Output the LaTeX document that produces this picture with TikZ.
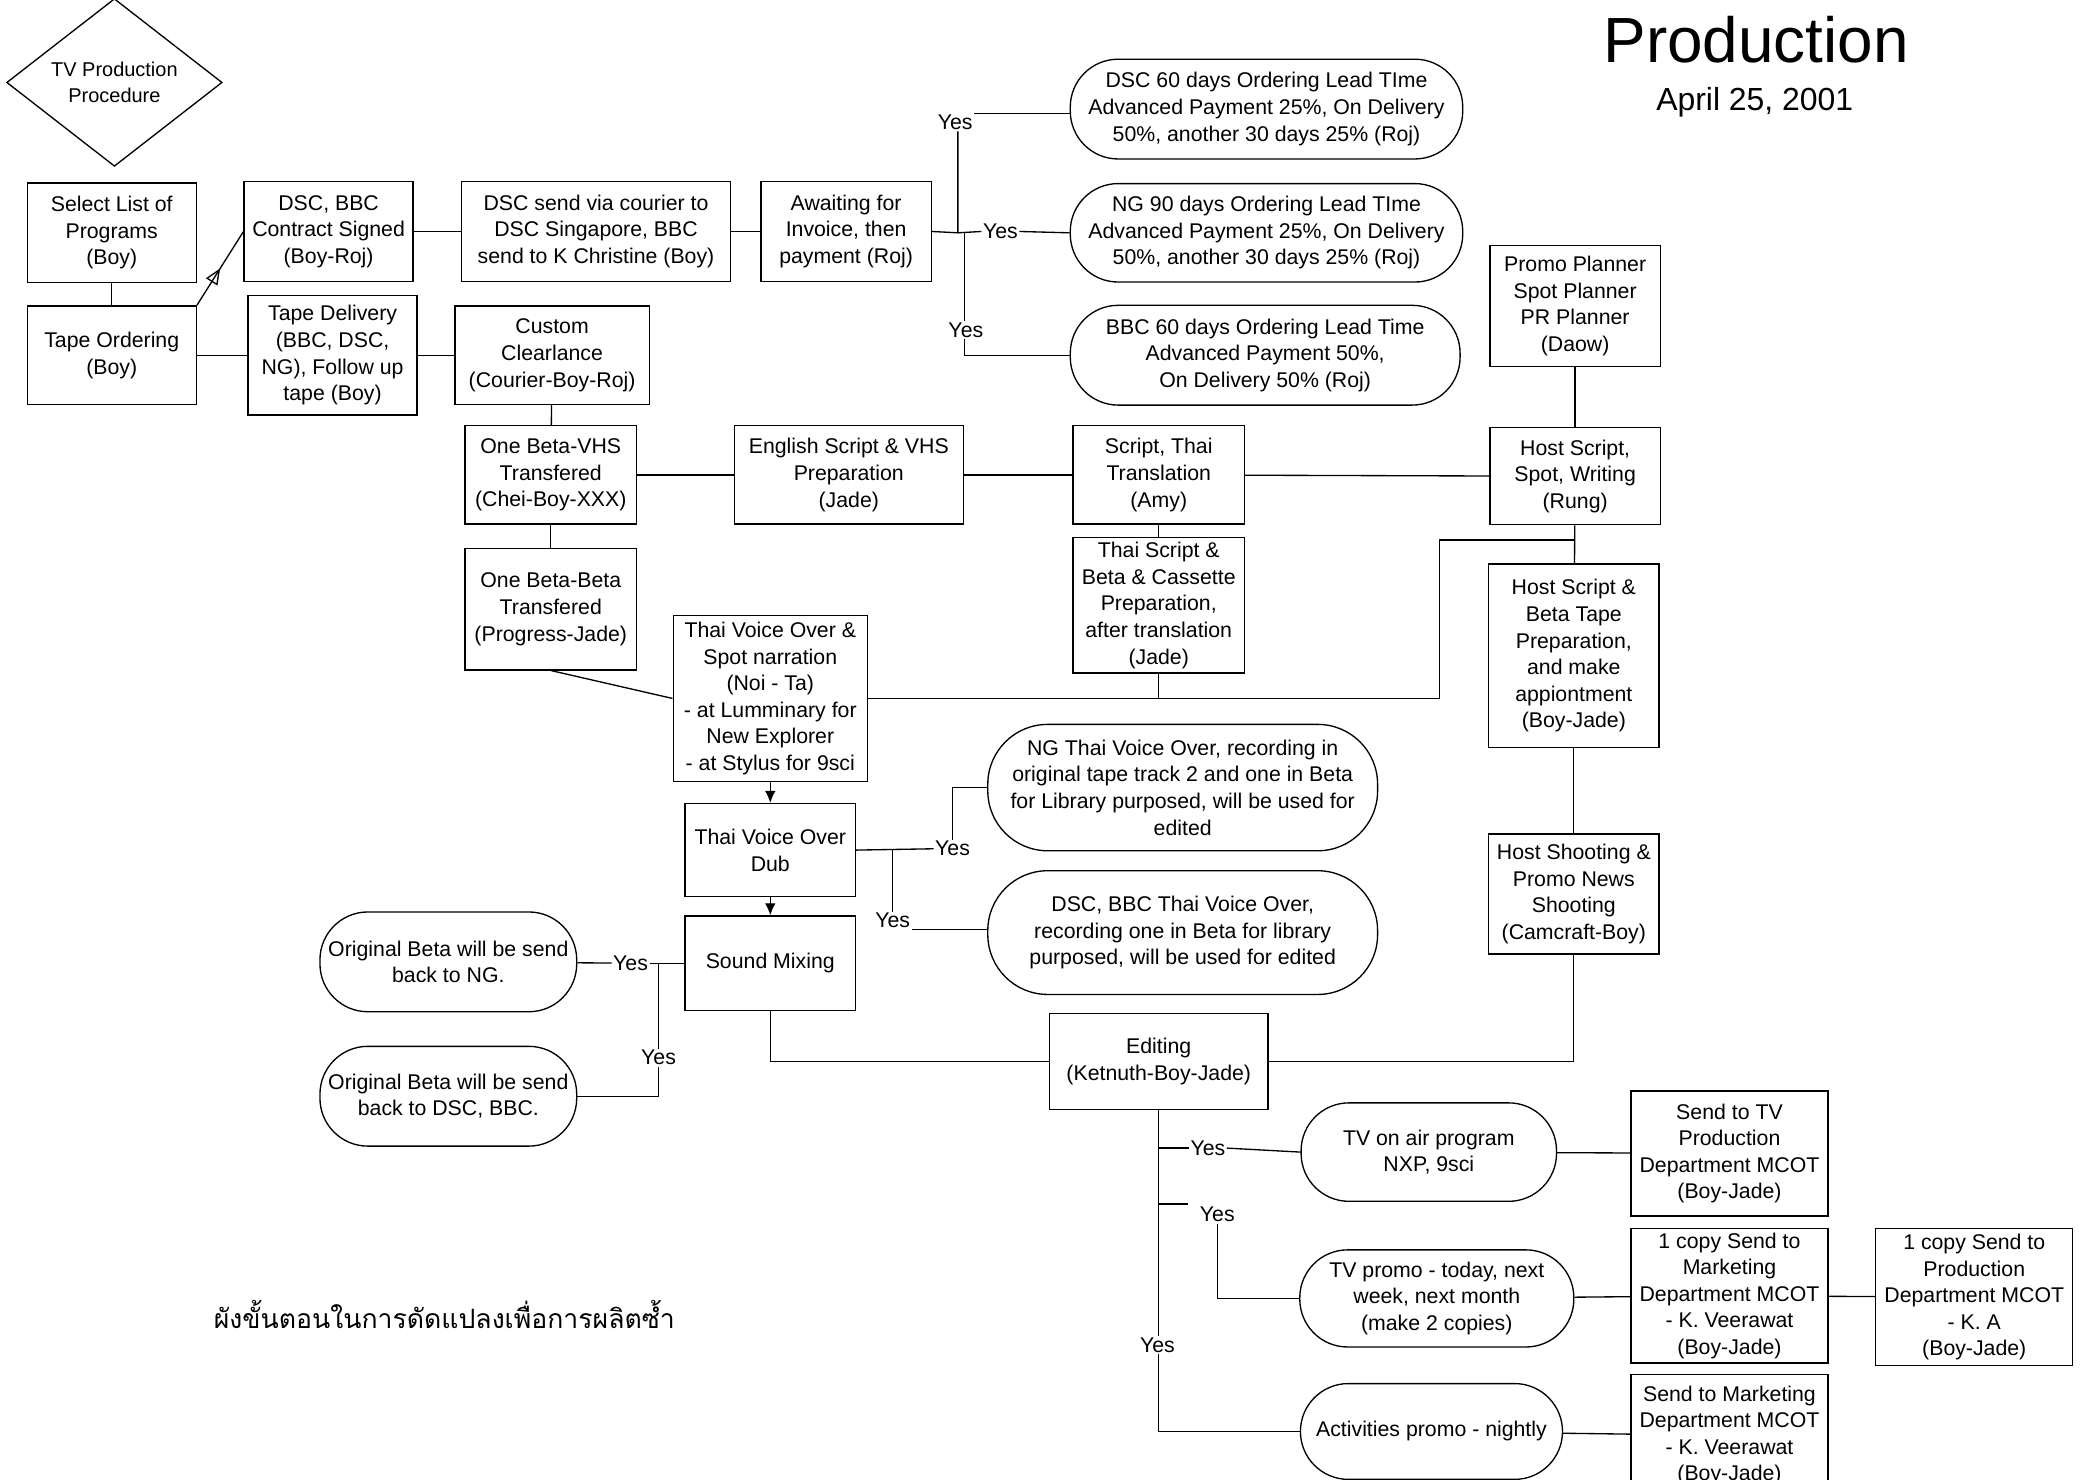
\documentclass[tikz,border=0pt]{standalone}
\usepackage{fontspec}
\setmainfont{Liberation Sans}
\newfontfamily\thaifont[Script=Thai]{Loma}
\usetikzlibrary{arrows.meta,shapes.geometric,decorations.markings}

\tikzset{
  txt/.style={font=\fontsize{16}{20}\selectfont},
  proc/.style={txt, draw, line width=1pt, align=center, inner sep=2pt},
  term/.style={proc, rounded corners=36pt},
  yes/.style={txt, inner sep=1pt},
  link/.style={line width=1pt},
  flow/.style={link, -{Latex[length=9pt,width=8pt]}},
  midtri/.style={postaction={decorate}, decoration={markings,
    mark=at position 0.5 with {\arrow{Triangle[open,length=12pt,width=10pt]}}}},
}

\begin{document}
\begin{tikzpicture}[x=1pt,y=-1pt]
    \useasboundingbox (0,0) rectangle (1568,1115);
    \clip (0,0) rectangle (1568,1112);
    \node[txt, diamond, draw, line width=1pt, align=center, inner sep=0pt, minimum width=162pt, minimum height=113pt,
      font=\fontsize{15}{20}\selectfont] (start) at (86,62) {TV Production\\Procedure};
    \node (title) at (1320,30) {\fontsize{48}{48}\selectfont Production};
    \node (date) at (1319,77) {\fontsize{24}{24}\selectfont April 25, 2001};
    \node (caption) at (334,988) {\thaifont\fontsize{20}{24}\selectfont ผังขั้นตอนในการดัดแปลงเพื่อการผลิตซ้ำ};

    \node[proc, minimum width=127pt, minimum height=75pt] (select) at (84,175) {Select List of\\Programs\\(Boy)};
    \node[proc, minimum width=127pt, minimum height=74pt] (order) at (84,267) {Tape Ordering\\(Boy)};
    \node[proc, minimum width=127pt, minimum height=75pt] (contract) at (247,174) {DSC, BBC\\Contract Signed\\(Boy-Roj)};
    \node[proc, minimum width=202pt, minimum height=75pt] (courier) at (448,174) {DSC send via courier to\\DSC Singapore, BBC\\send to K Christine (Boy)};
    \node[proc, minimum width=128pt, minimum height=75pt] (await) at (636,174) {Awaiting for\\Invoice, then\\payment (Roj)};
    \node[term, minimum width=295pt, minimum height=75pt] (dsclead) at (952,82) {DSC 60 days Ordering Lead TIme\\Advanced Payment 25\%, On Delivery\\50\%, another 30 days 25\% (Roj)};
    \node[term, minimum width=295pt, minimum height=74pt] (nglead) at (952,175) {NG 90 days Ordering Lead TIme\\Advanced Payment 25\%, On Delivery\\50\%, another 30 days 25\% (Roj)};
    \node[term, minimum width=293pt, minimum height=75pt] (bbclead) at (951,267) {BBC 60 days Ordering Lead Time\\Advanced Payment 50\%,\\On Delivery 50\% (Roj)};
    \node[proc, minimum width=128pt, minimum height=91pt] (planner) at (1184,230) {Promo Planner\\Spot Planner\\PR Planner\\(Daow)};
    \node[proc, minimum width=128pt, minimum height=73pt] (hostscript) at (1184,358) {Host Script,\\Spot, Writing\\(Rung)};
    \node[proc, minimum width=127pt, minimum height=90pt] (delivery) at (250,267) {Tape Delivery\\(BBC, DSC,\\NG), Follow up\\tape (Boy)};
    \node[proc, minimum width=146pt, minimum height=74pt] (custom) at (415,267) {Custom\\Clearlance\\(Courier-Boy-Roj)};
    \node[proc, minimum width=129pt, minimum height=74pt] (betavhs) at (414,357) {One Beta-VHS\\Transfered\\(Chei-Boy-XXX)};
    \node[proc, minimum width=172pt, minimum height=74pt] (english) at (638,357) {English Script \& VHS\\Preparation\\(Jade)};
    \node[proc, minimum width=129pt, minimum height=74pt] (thaitrans) at (871,357) {Script, Thai\\Translation\\(Amy)};
    \node[proc, minimum width=129pt, minimum height=102pt] (thaiscript) at (871,455) {Thai Script \&\\Beta \& Cassette\\Preparation,\\after translation\\(Jade)};
    \node[proc, minimum width=129pt, minimum height=91pt] (betabeta) at (414,458) {One Beta-Beta\\Transfered\\(Progress-Jade)};
    \node[proc, minimum width=146pt, minimum height=125pt] (voice) at (579,525) {Thai Voice Over \&\\Spot narration\\(Noi - Ta)\\- at Lumminary for\\New Explorer\\- at Stylus for 9sci};
    \node[proc, minimum width=128pt, minimum height=138pt] (hostprep) at (1183,493) {Host Script \&\\Beta Tape\\Preparation,\\and make\\appiontment\\(Boy-Jade)};
    \node[proc, minimum width=128pt, minimum height=90pt] (hostshoot) at (1183,672) {Host Shooting \&\\Promo News\\Shooting\\(Camcraft-Boy)};
    \node[proc, minimum width=128pt, minimum height=70pt] (dub) at (579,639) {Thai Voice Over\\Dub};
    \node[proc, minimum width=128pt, minimum height=71pt] (mixing) at (579,724) {Sound Mixing};
    \node[proc, minimum width=164pt, minimum height=72pt] (editing) at (871,798) {Editing\\(Ketnuth-Boy-Jade)};
    \node[term, rounded corners=45pt, minimum width=293pt, minimum height=95pt] (ngvoice) at (889,592) {NG Thai Voice Over, recording in\\original tape track 2 and one in Beta\\for Library purposed, will be used for\\edited};
    \node[term, rounded corners=45pt, minimum width=293pt, minimum height=93pt] (dscvoice) at (889,701) {DSC, BBC Thai Voice Over,\\recording one in Beta for library\\purposed, will be used for edited};
    \node[term, minimum width=193pt, minimum height=75pt] (backng) at (337,723) {Original Beta will be send\\back to NG.};
    \node[term, minimum width=193pt, minimum height=75pt] (backdsc) at (337,824) {Original Beta will be send\\back to DSC, BBC.};
    \node[term, minimum width=192pt, minimum height=74pt] (onair) at (1074,866) {TV on air program\\NXP, 9sci};
    \node[term, minimum width=206pt, minimum height=73pt] (promo) at (1080,976) {TV promo - today, next\\week, next month\\(make 2 copies)};
    \node[term, minimum width=197pt, minimum height=72pt] (activity) at (1076,1076) {Activities promo - nightly};
    \node[proc, minimum width=148pt, minimum height=94pt] (sendtv) at (1300,867) {Send to TV\\Production\\Department MCOT\\(Boy-Jade)};
    \node[proc, minimum width=148pt, minimum height=101pt] (copymkt) at (1300,974) {1 copy Send to\\Marketing\\Department MCOT\\- K. Veerawat\\(Boy-Jade)};
    \node[proc, minimum width=148pt, minimum height=103pt] (copyprod) at (1484,975) {1 copy Send to\\Production\\Department MCOT\\- K. A\\(Boy-Jade)};
    \node[proc, minimum width=148pt, minimum height=92pt] (sendmkt) at (1300,1079) {Send to Marketing\\Department MCOT\\- K. Veerawat\\(Boy-Jade)};

    \node[yes] (yesdsc) at (718,92) {Yes};
    \node[yes] (yesng) at (752,174) {Yes};
    \node[yes] (yesbbc) at (726,248) {Yes};
    \node[yes] (yesngvo) at (716,638) {Yes};
    \node[yes] (yesdscvo) at (671,692) {Yes};
    \node[yes] (yesbackng) at (474,724) {Yes};
    \node[yes] (yesbackdsc) at (495,795) {Yes};
    \node[yes] (yesonair) at (908,863) {Yes};
    \node[yes] (yespromo) at (915,913) {Yes};

    \coordinate (fork) at (720,175);
    \coordinate (forkb) at (725,175);
    \coordinate (hostjoin) at (1082,406);
    \coordinate (dubfork) at (671,639);
    \coordinate (mixfork) at (495,724);
    \coordinate (edonair) at (871,863);
    \coordinate (edpromo) at (871,905);
    \coordinate (edpromoend) at (893,905);

    \draw[link] (select) -- (order);
    \draw[link, midtri] (order.north east) -- (contract.west);
    \draw[link] (contract) -- (courier);
    \draw[link] (courier) -- (await);
    \draw[link] (await.east) -- (fork) -- (fork |- yesdsc.south);
    \draw[link] (yesdsc.north east) -- (yesdsc.north east -| dsclead.west);
    \draw[link] (fork) -- (yesng.west);
    \draw[link] (yesng.east) -- (nglead.west);
    \draw[link] (forkb) -- (forkb |- yesbbc.north);
    \draw[link] (forkb |- yesbbc.south) |- (bbclead.west);
    \draw[link] (planner) -- (hostscript);
    \draw[link] (order) -- (delivery);
    \draw[link] (delivery) -- (custom);
    \draw[link] (custom) -- (betavhs);
    \draw[link] (betavhs) -- (english);
    \draw[link] (english) -- (thaitrans);
    \draw[link] (thaitrans) -- (hostscript);
    \draw[link] (thaitrans) -- (thaiscript);
    \draw[link] (betavhs) -- (betabeta);
    \draw[link] (betabeta.south) -- (voice.west);
    \draw[link] (voice.east) -| (hostjoin) -- (hostjoin -| hostprep.north);
    \draw[link] (thaiscript.south) -- (thaiscript.south |- voice.east);
    \draw[link] (hostscript) -- (hostprep);
    \draw[link] (hostprep) -- (hostshoot);
    \draw[link] (hostshoot.south) |- (editing.east);
    \draw[flow] (voice) -- (dub);
    \draw[flow] (dub) -- (mixing);
    \draw[link] (mixing.south) |- (editing.west);
    \draw[link] (dub.east) -- (yesngvo.west);
    \draw[link] (yesngvo.north) |- (ngvoice.west);
    \draw[link] (dubfork) -- (dubfork |- yesdscvo.north);
    \draw[link] (yesdscvo.south east) -- (yesdscvo.south east -| dscvoice.west);
    \draw[link] (backng) -- (yesbackng);
    \draw[link] (yesbackng) -- (mixing);
    \draw[link] (mixfork) -- (yesbackdsc.north);
    \draw[link] (yesbackdsc.south) |- (backdsc.east);
    \draw[link] (editing.south) |- (activity.west);
    \draw[link] (edonair) -- (yesonair.west);
    \draw[link] (yesonair.east) -- (onair.west);
    \draw[link] (edpromo) -- (edpromoend);
    \draw[link] (yespromo.south) |- (promo.west);
    \node[yes, fill=white] (yesactivity) at (870,1011) {Yes};
    \draw[link] (onair) -- (sendtv);
    \draw[link] (promo) -- (copymkt);
    \draw[link] (copymkt) -- (copyprod);
    \draw[link] (activity) -- (sendmkt);
\end{tikzpicture}
\end{document}
